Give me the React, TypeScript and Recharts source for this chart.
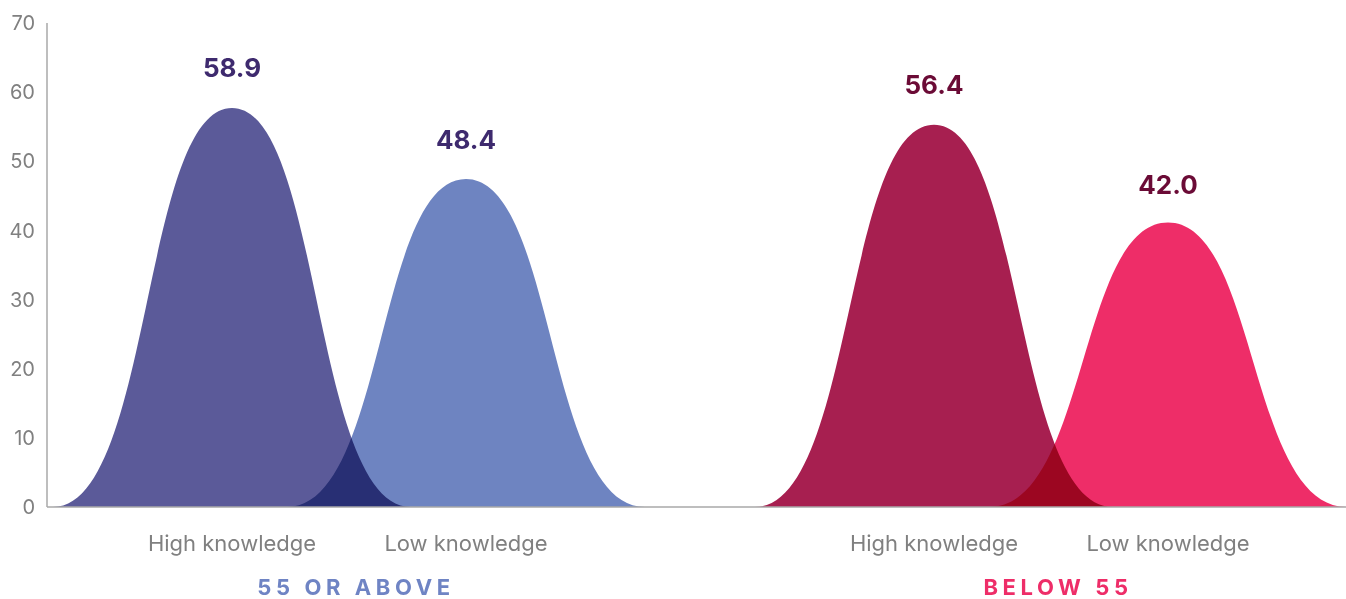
import { BarChart, Bar, XAxis, YAxis, Cell, LabelList } from "recharts";

// slots on the x axis; the empty one is the gap between the two age groups
const categories = ["High knowledge", "Low knowledge", "", "High knowledge", "Low knowledge"];
const scores = [58.9, 48.4, null, 56.4, 42.0];
const groups = ["55 OR ABOVE", "", "", "BELOW 55", ""];
const yTicks = [0, 10, 20, 30, 40, 50, 60, 70];

const fills = ["#5b5a99", "#6e84c1", "none", "#a71f50", "#ee2d68"];
const labelColors = ["#3e2a6e", "#3e2a6e", "none", "#6b0b36", "#6b0b36"];
const groupColors = ["#6f84c4", "", "", "#ee2d68", ""];

const data = categories.map((name, i) => ({ slot: i, name, score: scores[i] }));

const font = "Inter, 'Noto Sans', sans-serif";

function Bell(props: any) {
  const { x, y, width, height, payload } = props;
  if (payload == null || payload.score == null || !height) return null;
  const cx = x + width / 2;
  const base = y + height;
  const top = base - height * 0.98;
  const hw = width * 0.765;
  const a = hw * 0.55;
  const b = hw * 0.5;
  const d =
    `M${cx - hw},${base} C${cx - hw + a},${base} ${cx - b},${top} ${cx},${top} ` +
    `C${cx + b},${top} ${cx + hw - a},${base} ${cx + hw},${base} Z`;
  return <path d={d} fill={fills[payload.slot]} style={{ mixBlendMode: "multiply" }} />;
}

// LabelList reads the slot, so the colour and score come from the right entry
function ValueLabel(props: any) {
  const { x, y, width, value } = props;
  const score = scores[value];
  if (score == null) return null;
  return (
    <text
      x={x + width / 2}
      y={y - 23}
      textAnchor="middle"
      fill={labelColors[value]}
      fontFamily={font}
      fontSize={26}
      fontWeight={700}
    >
      {score.toFixed(1)}
    </text>
  );
}

function CategoryTick(props: any) {
  const { x, y, payload } = props;
  const i = payload.value;
  return (
    <g>
      <text x={x} y={y + 44} textAnchor="middle" fill="#808080" fontFamily={font} fontSize={22}>
        {categories[i]}
      </text>
      {groups[i] && (
        <text
          x={x + 124}
          y={y + 88}
          textAnchor="middle"
          fill={groupColors[i]}
          fontFamily={font}
          fontSize={22}
          fontWeight={700}
          letterSpacing={4.6}
        >
          {groups[i]}
        </text>
      )}
    </g>
  );
}

export default function App() {
  return (
    <div style={{ position: "absolute", left: 0, top: 0, background: "#fff" }}>
      <BarChart
        width={1346}
        height={599}
        data={data}
        margin={{ top: 23, right: 0, bottom: 0, left: 0 }}
        barCategoryGap={0}
      >
        <XAxis
          dataKey="slot"
          interval={0}
          padding={{ left: 68, right: 61 }}
          axisLine={{ stroke: "#a8a8a8", strokeWidth: 1.5 }}
          tickLine={false}
          tickSize={0}
          tickMargin={0}
          height={92}
          tick={<CategoryTick />}
        />
        <YAxis
          domain={[0, 70]}
          ticks={yTicks}
          width={47}
          axisLine={{ stroke: "#a8a8a8", strokeWidth: 1.5 }}
          tickLine={false}
          tickSize={6}
          tickMargin={6}
          tick={{ fill: "#808080", fontSize: 20, fontFamily: font }}
        />
        <Bar dataKey="score" shape={<Bell />} isAnimationActive={false}>
          {data.map((d) => (
            <Cell key={d.slot} fill={fills[d.slot]} />
          ))}
          <LabelList dataKey="slot" content={<ValueLabel />} />
        </Bar>
      </BarChart>
    </div>
  );
}
